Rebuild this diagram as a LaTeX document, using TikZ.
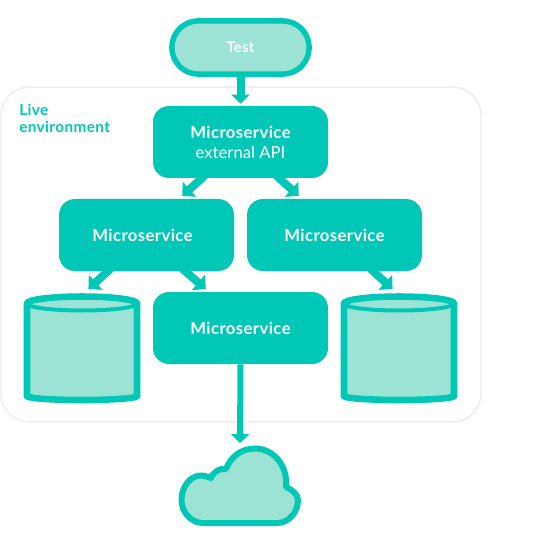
\documentclass[tikz,border=0pt]{standalone}
\usepackage{fontspec}
\setmainfont[LetterSpace=2.5]{Lato}
\newfontfamily\plainlato{Lato}
\usetikzlibrary{positioning,arrows.meta,shapes.misc}
\definecolor{tealStroke}{HTML}{00C7B6}
\definecolor{mintFill}{HTML}{9DE3D5}
\definecolor{envLine}{HTML}{EDEDED}

\begin{document}
\begin{tikzpicture}[
  x=0.75pt, y=-0.75pt,
  service/.style={rectangle, rounded corners=12pt, fill=tealStroke, text=white, align=center,
                  minimum width=131.25pt, minimum height=54pt, inner sep=0pt,
                  font=\fontsize{12.5}{15}\selectfont\bfseries},
  pill/.style={rounded rectangle, draw=tealStroke, fill=mintFill, line width=4.1pt, text=white,
                minimum width=103pt, minimum height=40pt, inner sep=0pt,
                font=\fontsize{11}{12}\selectfont\bfseries},
  region/.style={rectangle, draw=envLine, rounded corners=21pt, line width=1.1pt, fill=white,
                 minimum width=360pt, minimum height=251pt, inner sep=0pt},
  envlbl/.style={text=tealStroke, align=left, anchor=north west, inner sep=0pt,
                 font=\fontsize{11.5}{13}\selectfont\bfseries},
  dbhook/.style={inner sep=0pt, minimum width=87pt, minimum height=82pt},
  cloudhook/.style={inner sep=0pt, minimum width=92pt, minimum height=61pt},
  flow/.style={-{Triangle[length=6.75pt,width=13.5pt]}, line width=6pt, draw=tealStroke},
  flowdiag/.style={-{Triangle[length=7.4pt,width=14.8pt]}, line width=6pt, draw=tealStroke,
                   shorten <=-3pt},
  flowthin/.style={-{Triangle[length=6.75pt,width=13.5pt]}, line width=4.5pt, draw=tealStroke},
  shell/.style={draw=tealStroke, line width=4.9pt, fill=mintFill, line join=miter},
  rim/.style={draw=tealStroke, line width=3pt},
  cloudline/.style={draw=tealStroke, line width=4.5pt, fill=mintFill, line join=round},
]
\useasboundingbox (0,0) rectangle (540,545);

% ---------------- CONTAINER ----------------
\node[region] (ENV) at (241,254.5) {};
\node[envlbl] (ENVLBL) at (19,103.5) {Live\\environment};

% ---------------- NODES (pixel grid of the reference) ----------------
\node[pill] (TEST) at (240.5,47.5) {Test};
\node[service] (API) at (240.5,142) {Microservice\\{\plainlato\mdseries\fontsize{12.5}{15}\selectfont external API}};
\node[service] (LEFT) at (146.5,235) {\hspace*{-6pt}Microservice};
\node[service] (RIGHT) at (334.5,235) {Microservice};
\node[service] (LOWER) at (240.5,328) {Microservice};

% Databases and cloud are plain paths; the empty nodes only carry the connectors.
\node[dbhook] (DBL) at (82,348) {};
\node[dbhook] (DBR) at (399,348) {};
\node[cloudhook] (CLOUD) at (240,486) {};

\foreach \cx in {82,399} {
  \draw[shell] (\cx-55,303.5) arc[start angle=180, end angle=0, x radius=41.25pt, y radius=5.25pt]
    -- (\cx+55,396) arc[start angle=0, end angle=-180, x radius=41.25pt, y radius=3pt] -- cycle;
  \draw[rim] (\cx-55,303.5) arc[start angle=180, end angle=360, x radius=41.25pt, y radius=5.25pt];
}

\draw[cloudline] (203,523) -- (277,523)
  .. controls (289,523) and (298,512) .. (298,500)
  .. controls (298,495) and (293,490) .. (286,487)
  .. controls (288,465) and (273,448.5) .. (255,448.5)
  .. controls (242,448.5) and (231,456) .. (226,469)
  .. controls (220,468) and (214,471) .. (211,478)
  .. controls (208,477) and (205,475.5) .. (201,475.5)
  .. controls (190,475.5) and (181.5,487) .. (181.5,500)
  .. controls (181.5,512) and (191,523) .. (203,523) -- cycle;

% ---------------- EDGES ----------------
\draw[flow, shorten >=1.5pt] (TEST.south) -- (API.north);
\draw[flowdiag, shorten >=3.2pt] ([xshift=-29pt]API.south) -- ([xshift=24.4pt]LEFT.north);
\draw[flowdiag, shorten >=3.2pt] ([xshift=29pt]API.south) -- ([xshift=-24.4pt]RIGHT.north);
\draw[flowdiag, shorten >=4.5pt] ([xshift=-29pt]LEFT.south) -- ([xshift=1.5pt]DBL.north);
\draw[flowdiag, shorten >=3.2pt] ([xshift=29pt]LEFT.south) -- ([xshift=-23.6pt]LOWER.north);
\draw[flowdiag, shorten >=4.5pt] ([xshift=29pt]RIGHT.south) -- ([xshift=-1.5pt]DBR.north);
\draw[flowthin, shorten >=1.5pt] (LOWER.south) -- (CLOUD.north);
\end{tikzpicture}
\end{document}
